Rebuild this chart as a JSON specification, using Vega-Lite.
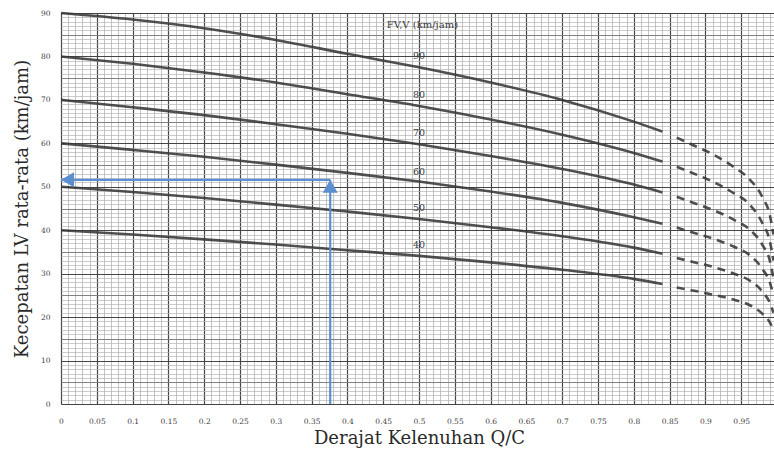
{
  "$schema": "https://vega.github.io/schema/vega-lite/v6.json",
  "autosize": "none",
  "padding": {"left": 61, "top": 13, "right": 0, "bottom": 52},
  "width": 716,
  "height": 391,
  "background": "#ffffff",
  "config": {
    "view": {"stroke": null},
    "axis": {"labelFont": "DejaVu Serif", "titleFont": "DejaVu Serif", "labelColor": "#404040", "titleColor": "#2a2a2a", "titleFontWeight": "normal"}
  },
  "datasets": {
    "curves": [
      {"fv": 90, "seg": "solid", "qc": 0, "v": 90}, {"fv": 90, "seg": "solid", "qc": 0.1, "v": 88.5}, {"fv": 90, "seg": "solid", "qc": 0.2, "v": 86.5}, {"fv": 90, "seg": "solid", "qc": 0.3, "v": 83.8}, {"fv": 90, "seg": "solid", "qc": 0.4, "v": 80.6}, {"fv": 90, "seg": "solid", "qc": 0.5, "v": 77.5}, {"fv": 90, "seg": "solid", "qc": 0.6, "v": 74}, {"fv": 90, "seg": "solid", "qc": 0.7, "v": 70}, {"fv": 90, "seg": "solid", "qc": 0.8, "v": 65}, {"fv": 90, "seg": "solid", "qc": 0.84, "v": 62.7},
      {"fv": 80, "seg": "solid", "qc": 0, "v": 80}, {"fv": 80, "seg": "solid", "qc": 0.1, "v": 78.3}, {"fv": 80, "seg": "solid", "qc": 0.2, "v": 76.3}, {"fv": 80, "seg": "solid", "qc": 0.3, "v": 74}, {"fv": 80, "seg": "solid", "qc": 0.4, "v": 71.3}, {"fv": 80, "seg": "solid", "qc": 0.5, "v": 68.6}, {"fv": 80, "seg": "solid", "qc": 0.6, "v": 65.5}, {"fv": 80, "seg": "solid", "qc": 0.7, "v": 62}, {"fv": 80, "seg": "solid", "qc": 0.8, "v": 57.8}, {"fv": 80, "seg": "solid", "qc": 0.84, "v": 55.8},
      {"fv": 70, "seg": "solid", "qc": 0, "v": 70}, {"fv": 70, "seg": "solid", "qc": 0.1, "v": 68.3}, {"fv": 70, "seg": "solid", "qc": 0.2, "v": 66.5}, {"fv": 70, "seg": "solid", "qc": 0.3, "v": 64.4}, {"fv": 70, "seg": "solid", "qc": 0.4, "v": 62.2}, {"fv": 70, "seg": "solid", "qc": 0.5, "v": 59.8}, {"fv": 70, "seg": "solid", "qc": 0.6, "v": 57.1}, {"fv": 70, "seg": "solid", "qc": 0.7, "v": 54.1}, {"fv": 70, "seg": "solid", "qc": 0.8, "v": 50.5}, {"fv": 70, "seg": "solid", "qc": 0.84, "v": 48.7},
      {"fv": 60, "seg": "solid", "qc": 0, "v": 60}, {"fv": 60, "seg": "solid", "qc": 0.1, "v": 58.5}, {"fv": 60, "seg": "solid", "qc": 0.2, "v": 56.9}, {"fv": 60, "seg": "solid", "qc": 0.3, "v": 55.1}, {"fv": 60, "seg": "solid", "qc": 0.4, "v": 53.2}, {"fv": 60, "seg": "solid", "qc": 0.5, "v": 51.2}, {"fv": 60, "seg": "solid", "qc": 0.6, "v": 48.9}, {"fv": 60, "seg": "solid", "qc": 0.7, "v": 46.3}, {"fv": 60, "seg": "solid", "qc": 0.8, "v": 43}, {"fv": 60, "seg": "solid", "qc": 0.84, "v": 41.5},
      {"fv": 50, "seg": "solid", "qc": 0, "v": 50}, {"fv": 50, "seg": "solid", "qc": 0.1, "v": 48.8}, {"fv": 50, "seg": "solid", "qc": 0.2, "v": 47.4}, {"fv": 50, "seg": "solid", "qc": 0.3, "v": 45.9}, {"fv": 50, "seg": "solid", "qc": 0.4, "v": 44.3}, {"fv": 50, "seg": "solid", "qc": 0.5, "v": 42.6}, {"fv": 50, "seg": "solid", "qc": 0.6, "v": 40.7}, {"fv": 50, "seg": "solid", "qc": 0.7, "v": 38.6}, {"fv": 50, "seg": "solid", "qc": 0.8, "v": 36}, {"fv": 50, "seg": "solid", "qc": 0.84, "v": 34.6},
      {"fv": 40, "seg": "solid", "qc": 0, "v": 40}, {"fv": 40, "seg": "solid", "qc": 0.1, "v": 39}, {"fv": 40, "seg": "solid", "qc": 0.2, "v": 37.9}, {"fv": 40, "seg": "solid", "qc": 0.3, "v": 36.7}, {"fv": 40, "seg": "solid", "qc": 0.4, "v": 35.4}, {"fv": 40, "seg": "solid", "qc": 0.5, "v": 34.1}, {"fv": 40, "seg": "solid", "qc": 0.6, "v": 32.6}, {"fv": 40, "seg": "solid", "qc": 0.7, "v": 30.9}, {"fv": 40, "seg": "solid", "qc": 0.8, "v": 28.8}, {"fv": 40, "seg": "solid", "qc": 0.84, "v": 27.6},
      {"fv": 90, "seg": "dashed", "qc": 0.86, "v": 61.3}, {"fv": 90, "seg": "dashed", "qc": 0.88, "v": 59.8}, {"fv": 90, "seg": "dashed", "qc": 0.91, "v": 57.5}, {"fv": 90, "seg": "dashed", "qc": 0.94, "v": 54.5}, {"fv": 90, "seg": "dashed", "qc": 0.96, "v": 52}, {"fv": 90, "seg": "dashed", "qc": 0.98, "v": 47.5}, {"fv": 90, "seg": "dashed", "qc": 0.99, "v": 43.5}, {"fv": 90, "seg": "dashed", "qc": 0.995, "v": 39},
      {"fv": 80, "seg": "dashed", "qc": 0.86, "v": 54.6}, {"fv": 80, "seg": "dashed", "qc": 0.88, "v": 53.3}, {"fv": 80, "seg": "dashed", "qc": 0.91, "v": 51.2}, {"fv": 80, "seg": "dashed", "qc": 0.94, "v": 48.5}, {"fv": 80, "seg": "dashed", "qc": 0.96, "v": 46.2}, {"fv": 80, "seg": "dashed", "qc": 0.98, "v": 41.5}, {"fv": 80, "seg": "dashed", "qc": 0.99, "v": 37.5}, {"fv": 80, "seg": "dashed", "qc": 0.995, "v": 33},
      {"fv": 70, "seg": "dashed", "qc": 0.86, "v": 47.7}, {"fv": 70, "seg": "dashed", "qc": 0.88, "v": 46.5}, {"fv": 70, "seg": "dashed", "qc": 0.91, "v": 44.7}, {"fv": 70, "seg": "dashed", "qc": 0.94, "v": 42.4}, {"fv": 70, "seg": "dashed", "qc": 0.96, "v": 40.4}, {"fv": 70, "seg": "dashed", "qc": 0.98, "v": 36.5}, {"fv": 70, "seg": "dashed", "qc": 0.99, "v": 33}, {"fv": 70, "seg": "dashed", "qc": 0.995, "v": 29},
      {"fv": 60, "seg": "dashed", "qc": 0.86, "v": 40.6}, {"fv": 60, "seg": "dashed", "qc": 0.88, "v": 39.6}, {"fv": 60, "seg": "dashed", "qc": 0.91, "v": 38.1}, {"fv": 60, "seg": "dashed", "qc": 0.94, "v": 36.2}, {"fv": 60, "seg": "dashed", "qc": 0.96, "v": 34.5}, {"fv": 60, "seg": "dashed", "qc": 0.98, "v": 31}, {"fv": 60, "seg": "dashed", "qc": 0.99, "v": 28}, {"fv": 60, "seg": "dashed", "qc": 0.995, "v": 25},
      {"fv": 50, "seg": "dashed", "qc": 0.86, "v": 33.6}, {"fv": 50, "seg": "dashed", "qc": 0.88, "v": 32.8}, {"fv": 50, "seg": "dashed", "qc": 0.91, "v": 31.6}, {"fv": 50, "seg": "dashed", "qc": 0.94, "v": 30}, {"fv": 50, "seg": "dashed", "qc": 0.96, "v": 28.6}, {"fv": 50, "seg": "dashed", "qc": 0.98, "v": 25.8}, {"fv": 50, "seg": "dashed", "qc": 0.99, "v": 23.3}, {"fv": 50, "seg": "dashed", "qc": 0.995, "v": 21},
      {"fv": 40, "seg": "dashed", "qc": 0.86, "v": 26.8}, {"fv": 40, "seg": "dashed", "qc": 0.88, "v": 26.2}, {"fv": 40, "seg": "dashed", "qc": 0.91, "v": 25.2}, {"fv": 40, "seg": "dashed", "qc": 0.94, "v": 24}, {"fv": 40, "seg": "dashed", "qc": 0.96, "v": 22.9}, {"fv": 40, "seg": "dashed", "qc": 0.98, "v": 20.7}, {"fv": 40, "seg": "dashed", "qc": 0.99, "v": 18.8}, {"fv": 40, "seg": "dashed", "qc": 0.995, "v": 17}
    ],
    "labels": [
      {"qc": 0.5, "v": 80.0, "text": "90"},
      {"qc": 0.5, "v": 71.1, "text": "80"},
      {"qc": 0.5, "v": 62.3, "text": "70"},
      {"qc": 0.5, "v": 53.4, "text": "60"},
      {"qc": 0.5, "v": 45.1, "text": "50"},
      {"qc": 0.5, "v": 36.6, "text": "40"}
    ],
    "legendTitle": [{"qc": 0.455, "v": 87.2, "text": "FV,V (km/jam)"}],
    "arrows": [
      {"part": "up", "qc": 0.376, "v": 0, "qc2": 0.376, "v2": 51.6},
      {"part": "left", "qc": 0.376, "v": 51.6, "qc2": 0, "v2": 51.6}
    ],
    "heads": [
      {"part": "up", "qc": 0.376, "v": 51.6},
      {"part": "left", "qc": 0, "v": 51.6}
    ]
  },
  "resolve": {"axis": {"x": "independent", "y": "independent"}},
  "layer": [
    {
      "data": {"name": "curves"},
      "transform": [{"filter": "datum.seg === 'solid'"}],
      "mark": {"type": "line", "interpolate": "monotone", "color": "#383838", "strokeWidth": 2.6, "opacity": 0.88},
      "encoding": {
        "x": {"field": "qc", "type": "quantitative", "scale": {"domain": [0, 1], "nice": false, "zero": false},
          "axis": {"orient": "bottom", "tickCount": 100, "grid": true, "gridColor": "#ababab", "gridWidth": 0.7, "labels": false, "ticks": false, "domain": false, "title": null}},
        "y": {"field": "v", "type": "quantitative", "scale": {"domain": [0, 90], "nice": false},
          "axis": {"orient": "left", "tickCount": 90, "grid": true, "gridColor": "#b4b4b4", "gridWidth": 0.7, "labels": false, "ticks": false, "domain": false, "title": null}},
        "detail": {"field": "fv"}
      }
    },
    {
      "data": {"name": "curves"},
      "transform": [{"filter": "datum.seg === 'dashed'"}],
      "mark": {"type": "line", "interpolate": "monotone", "color": "#383838", "strokeWidth": 2.6, "opacity": 0.88, "strokeDash": [8, 6]},
      "encoding": {
        "x": {"field": "qc", "type": "quantitative", "axis": null},
        "y": {"field": "v", "type": "quantitative",
          "axis": {"orient": "left", "values": [5, 15, 25, 35, 45, 55, 65, 75, 85], "grid": true, "gridColor": "#7a7a7a", "gridWidth": 0.9, "labels": false, "ticks": false, "domain": false, "title": null}},
        "detail": {"field": "fv"}
      }
    },
    {
      "data": {"name": "labels"},
      "mark": {"type": "text", "font": "DejaVu Serif", "fontSize": 9.5, "fill": "#3a3a3a", "align": "center", "baseline": "middle"},
      "encoding": {
        "x": {"field": "qc", "type": "quantitative",
          "axis": {"orient": "bottom", "values": [0, 0.05, 0.1, 0.15, 0.2, 0.25, 0.3, 0.35, 0.4, 0.45, 0.5, 0.55, 0.6, 0.65, 0.7, 0.75, 0.8, 0.85, 0.9, 0.95], "format": "~g", "grid": true, "gridColor": "#454545", "gridWidth": 1.2, "ticks": false, "domain": false, "labelFontSize": 7.5, "labelPadding": 13, "labelFlush": false, "labelOverlap": false, "title": "Derajat Kelenuhan  Q/C", "titleFontSize": 18, "titlePadding": 5}},
        "y": {"field": "v", "type": "quantitative",
          "axis": {"orient": "left", "values": [0, 10, 20, 30, 40, 50, 60, 70, 80, 90], "grid": true, "gridColor": "#454545", "gridWidth": 1.2, "ticks": false, "domain": false, "labelFontSize": 7.5, "labelPadding": 11, "title": "Kecepatan LV rata-rata (km/jam)", "titleFontSize": 18, "titlePadding": 9}},
        "text": {"field": "text"}
      }
    },
    {
      "data": {"name": "legendTitle"},
      "mark": {"type": "text", "font": "DejaVu Serif", "fontSize": 10, "fill": "#3a3a3a", "align": "left", "baseline": "middle"},
      "encoding": {
        "x": {"field": "qc", "type": "quantitative", "axis": null},
        "y": {"field": "v", "type": "quantitative", "axis": null},
        "text": {"field": "text"}
      }
    },
    {
      "data": {"name": "arrows"},
      "mark": {"type": "rule", "color": "#5b8fd0", "strokeWidth": 2.2},
      "encoding": {
        "x": {"field": "qc", "type": "quantitative", "axis": null},
        "y": {"field": "v", "type": "quantitative", "axis": null},
        "x2": {"field": "qc2"},
        "y2": {"field": "v2"}
      }
    },
    {
      "data": {"name": "heads"},
      "transform": [{"filter": "datum.part === 'up'"}],
      "mark": {"type": "point", "shape": "triangle-up", "filled": true, "size": 225, "color": "#5b8fd0", "opacity": 1, "yOffset": 6.5},
      "encoding": {
        "x": {"field": "qc", "type": "quantitative", "axis": null},
        "y": {"field": "v", "type": "quantitative", "axis": null}
      }
    },
    {
      "data": {"name": "heads"},
      "transform": [{"filter": "datum.part === 'left'"}],
      "mark": {"type": "point", "shape": "triangle-left", "filled": true, "size": 225, "color": "#5b8fd0", "opacity": 1, "xOffset": 6.5},
      "encoding": {
        "x": {"field": "qc", "type": "quantitative", "axis": null},
        "y": {"field": "v", "type": "quantitative", "axis": null}
      }
    }
  ]
}
